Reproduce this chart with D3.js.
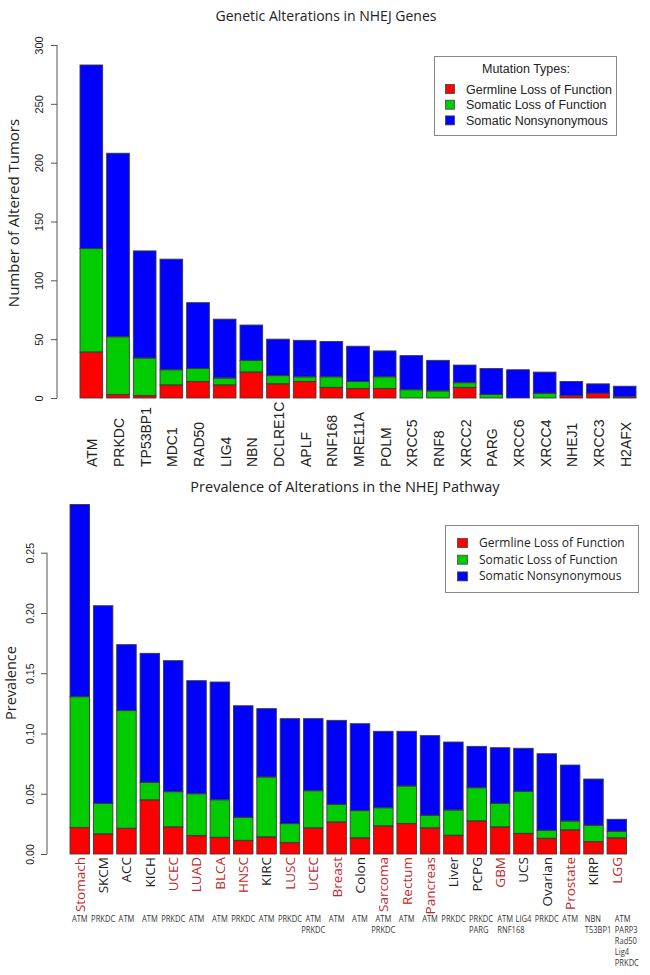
<!DOCTYPE html>
<html><head><meta charset="utf-8">
<script src="https://cdn.jsdelivr.net/npm/d3@7"></script>
<style>
html,body{margin:0;padding:0;background:#fff;}
svg{display:block;}
</style>
</head><body>
<svg id="chart" width="650" height="975"></svg>
<script>
// ---------- Top chart data ----------
const genes = ["ATM","PRKDC","TP53BP1","MDC1","RAD50","LIG4","NBN","DCLRE1C","APLF","RNF168","MRE11A","POLM","XRCC5","RNF8","XRCC2","PARG","XRCC6","XRCC4","NHEJ1","XRCC3","H2AFX"];
const geneGermline   = [39,3,2,11,14,11,22,12,14,9,8,8,0,0,9,0,0,0,2,4,1];
const geneSomaticLoF = [88,49,32,13,11,6,10,7,4,9,6,10,7,6,4,3,0,4,0,0,0];
const geneSomaticNS  = [156,156,91,94,56,50,30,31,31,30,30,22,29,26,15,22,24,18,12,8,9];
const topTicks = [0,50,100,150,200,250,300];

// ---------- Bottom chart data ----------
const cancers = ["Stomach","SKCM","ACC","KICH","UCEC","LUAD","BLCA","HNSC","KIRC","LUSC","UCEC","Breast","Colon","Sarcoma","Rectum","Pancreas","Liver","PCPG","GBM","UCS","Ovarian","Prostate","KIRP","LGG"];
const cancerHighlighted = [true,false,false,false,true,true,true,true,false,true,true,true,false,true,true,true,false,false,true,false,false,true,false,true];
const cancerGenes = [["ATM"],["PRKDC"],["ATM"],["ATM"],["PRKDC"],["ATM"],["ATM"],["PRKDC"],["ATM"],["PRKDC"],["ATM","PRKDC"],["ATM"],["ATM"],["ATM","PRKDC"],["ATM"],["ATM"],["PRKDC"],["PRKDC","PARG"],["ATM","RNF168"],["LIG4"],["PRKDC"],["ATM"],["NBN","T53BP1"],["ATM","PARP3","Rad50","Lig4","PRKDC"]];
const prevGermline   = [.022,.0166,.0213,.0448,.0224,.0152,.0138,.0113,.0141,.0094,.0216,.0265,.0133,.0232,.0252,.0216,.0155,.0274,.0224,.0171,.013,.0199,.0102,.0133];
const prevSomaticLoF = [.1085,.0254,.0977,.0147,.0293,.0348,.0312,.0191,.0498,.0158,.0309,.0147,.0227,.0152,.0312,.0105,.021,.0276,.0196,.0349,.0066,.0075,.0136,.0055];
const prevSomaticNS  = [.1595,.164,.0547,.107,.1087,.0938,.0977,.0926,.0567,.0871,.0598,.0697,.0721,.0634,.0454,.0661,.0564,.0343,.0462,.0357,.0636,.0464,.0384,.01];
const bottomTicks = [0,0.05,0.10,0.15,0.20,0.25];

const seriesNames = ["Germline Loss of Function","Somatic Loss of Function","Somatic Nonsynonymous"];
const seriesColors = ["#ff0000","#00cc00","#0000ff"];

const svg = d3.select("#chart");
const TXT = "#222";
const SANS = "'Open Sans', 'Noto Sans', sans-serif";
const ARIAL = "'Liberation Sans', Arial, sans-serif";

function stackedBars(g, cats, comps, x, y) {
  const rows = cats.map((c,i)=>{ const o={key:c, idx:i}; comps.forEach((a,k)=>o["s"+k]=a[i]); return o; });
  const keys = comps.map((_,k)=>"s"+k);
  const stacked = d3.stack().keys(keys)(rows);
  stacked.forEach((layer,k)=>{
    g.append("g").selectAll("rect").data(layer).join("rect")
      .attr("x", d=>x(d.data.idx))
      .attr("width", x.bandwidth())
      .attr("y", d=>y(d[1]))
      .attr("height", d=>Math.max(0, y(d[0])-y(d[1])))
      .attr("fill", seriesColors[k]);
  });
  stacked.forEach((layer)=>{
    g.append("g").selectAll("rect").data(layer.filter(d=>d[1]-d[0]>0)).join("rect")
      .attr("x", d=>x(d.data.idx))
      .attr("width", x.bandwidth())
      .attr("y", d=>y(d[1]))
      .attr("height", d=>Math.max(0, y(d[0])-y(d[1])))
      .attr("fill","none").attr("stroke","#3a3a3a").attr("stroke-width",0.9);
  });
}

function yAxisR(g, y, ticks, axisX, fmt, labelX, fontSize) {
  const ax = d3.axisLeft(y).tickValues(ticks).tickFormat(fmt).tickSize(6).tickSizeOuter(0);
  const a = g.append("g").attr("transform",`translate(${axisX},0)`).call(ax);
  a.select(".domain").attr("stroke","#555").attr("d", `M0,${y(ticks[0])}V${y(ticks[ticks.length-1])}`);
  a.selectAll(".tick line").attr("stroke","#555");
  a.selectAll(".tick text")
    .attr("font-family", ARIAL).attr("font-size", fontSize).attr("fill", TXT)
    .attr("text-anchor","middle")
    .attr("x", null).attr("dy", null)
    .attr("transform", `translate(${labelX - axisX},0) rotate(-90)`)
    .attr("y", 0).attr("dy","0.35em");
}

// ================= TOP CHART =================
const topG = svg.append("g");
const xTop = d3.scaleBand().domain(d3.range(genes.length)).range([78, 638]).paddingInner(0.15).paddingOuter(0.075);
const yTop = d3.scaleLinear().domain([0,300]).range([398,45]);

stackedBars(topG, genes, [geneGermline, geneSomaticLoF, geneSomaticNS], xTop, yTop);
yAxisR(topG, yTop, topTicks, 57, d3.format("d"), 39, 11);

topG.append("text").attr("x", 326).attr("y", 21).attr("text-anchor","middle")
  .attr("font-family", SANS).attr("font-size", 14).attr("fill", TXT)
  .text("Genetic Alterations in NHEJ Genes");

topG.append("text").attr("transform","translate(14,213) rotate(-90)").attr("text-anchor","middle")
  .attr("dy","0.35em")
  .attr("font-family", SANS).attr("font-size", 15).attr("fill", TXT)
  .text("Number of Altered Tumors");

topG.append("g").selectAll("text").data(genes).join("text")
  .attr("transform",(d,i)=>`translate(${xTop(i)+xTop.bandwidth()/2+1},467) rotate(-90)`)
  .attr("dy","0.36em").attr("text-anchor","start")
  .attr("font-family", ARIAL).attr("font-size", 14).attr("fill", TXT)
  .text(d=>d);

const lg1 = topG.append("g");
lg1.append("rect").attr("x",434.5).attr("y",56.5).attr("width",182).attr("height",79)
  .attr("fill","#fff").attr("stroke","#888").attr("stroke-width",1);
lg1.append("text").attr("x",526).attr("y",73).attr("text-anchor","middle")
  .attr("font-family", ARIAL).attr("font-size",12.5).attr("fill",TXT).text("Mutation Types:");
seriesNames.forEach((s,i)=>{
  lg1.append("rect").attr("x",445.5).attr("y",84.5+i*15.7).attr("width",9).attr("height",9)
    .attr("fill",seriesColors[i]).attr("stroke","#444").attr("stroke-width",0.8);
  lg1.append("text").attr("x",466).attr("y",93.5+i*15.7)
    .attr("font-family", ARIAL).attr("font-size",12.5).attr("fill",TXT).text(s);
});

// ================= BOTTOM CHART =================
const botG = svg.append("g");
const xBot = d3.scaleBand().domain(d3.range(cancers.length)).range([68.1, 628.5]).paddingInner(0.165).paddingOuter(0.0825);
const yBot = d3.scaleLinear().domain([0,0.25]).range([854,552.7]);

stackedBars(botG, cancers, [prevGermline, prevSomaticLoF, prevSomaticNS], xBot, yBot);
yAxisR(botG, yBot, bottomTicks, 47, d3.format(".2f"), 30, 10.5);

botG.append("text").attr("x", 345).attr("y", 492).attr("text-anchor","middle")
  .attr("font-family", SANS).attr("font-size", 14.5).attr("fill", TXT)
  .text("Prevalence of Alterations in the NHEJ Pathway");

botG.append("text").attr("transform","translate(11,683) rotate(-90)").attr("text-anchor","middle")
  .attr("dy","0.35em")
  .attr("font-family", SANS).attr("font-size", 14.5).attr("fill", TXT)
  .text("Prevalence");

botG.append("g").selectAll("text").data(cancers).join("text")
  .attr("transform",(d,i)=>`translate(${xBot(i)+xBot.bandwidth()/2},857) rotate(-90)`)
  .attr("dy","0.36em").attr("text-anchor","end")
  .attr("font-family", SANS).attr("font-size", 13.5)
  .attr("fill",(d,i)=>cancerHighlighted[i] ? "#c1272d" : TXT)
  .text(d=>d);

// gene sub-labels: narrow, mostly centred; a few multi-line groups are left-aligned as in the reference
const sub = botG.append("g");
const nC = cancers.length;
cancerGenes.forEach((lines,i)=>{
  let anchor = "middle", ax = xBot(i) + xBot.bandwidth()/2;
  if (i === 17) { anchor = "start"; ax = xBot(i) + 2; }
  if (i === 18) { anchor = "start"; ax = xBot(i) + 7; }
  if (i === nC-2) { anchor = "start"; ax = xBot(i) + 1; }
  if (i === nC-1) { anchor = "start"; ax = xBot(i) + xBot.bandwidth()/2 - 2; }
  const t = sub.append("text")
    .attr("transform", `translate(${ax},922) scale(0.84,1)`)
    .attr("font-family", SANS).attr("font-size", 9).attr("fill", "#333")
    .attr("text-anchor", anchor);
  lines.forEach((ln,j)=>{
    t.append("tspan").attr("x",0).attr("y",j*11).text(ln);
  });
});

const lg2 = botG.append("g");
lg2.append("rect").attr("x",445.5).attr("y",525.5).attr("width",193).attr("height",67)
  .attr("fill","#fff").attr("stroke","#888").attr("stroke-width",1);
seriesNames.forEach((s,i)=>{
  lg2.append("rect").attr("x",457.5).attr("y",538.5+i*16.7).attr("width",10).attr("height",9)
    .attr("fill",seriesColors[i]).attr("stroke","#444").attr("stroke-width",0.8);
  lg2.append("text").attr("x",479).attr("y",547+i*16.7)
    .attr("font-family", SANS).attr("font-size",12).attr("fill",TXT).text(s);
});
</script>
</body></html>
